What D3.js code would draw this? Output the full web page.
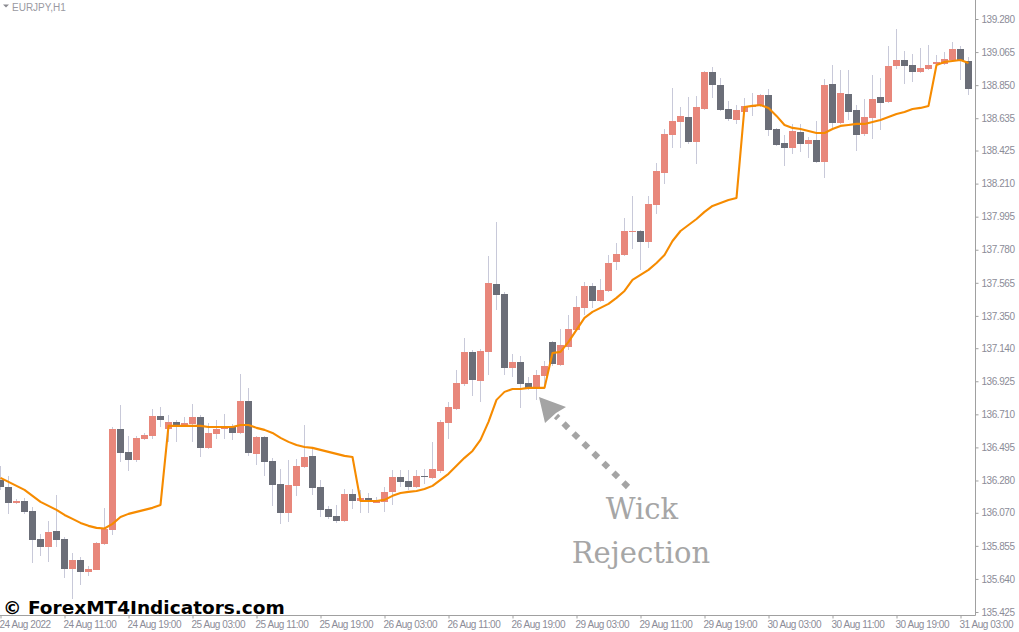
<!DOCTYPE html>
<html><head><meta charset="utf-8">
<script src="https://cdn.jsdelivr.net/npm/d3@7"></script>
<style>html,body{margin:0;padding:0;background:#fff;}svg{display:block;}</style>
</head><body>
<svg id="chart" width="1019" height="632"></svg>
<script>
const symbolLabel = "EURJPY,H1";
const timeLabels = ["24 Aug 2022","24 Aug 11:00","24 Aug 19:00","25 Aug 03:00","25 Aug 11:00","25 Aug 19:00","26 Aug 03:00","26 Aug 11:00","26 Aug 19:00","29 Aug 03:00","29 Aug 11:00","29 Aug 19:00","30 Aug 03:00","30 Aug 11:00","30 Aug 19:00","31 Aug 03:00"];
const timeLabelIndex = [0,8,16,24,32,40,48,56,64,72,80,88,96,104,112,120];
const priceTicks = ["139.280","139.065","138.850","138.635","138.425","138.210","137.995","137.780","137.565","137.350","137.140","136.925","136.710","136.495","136.280","136.070","135.855","135.640","135.425"];

const open = [136.284,136.240,136.136,136.147,136.082,135.900,135.850,135.952,135.900,135.707,
135.764,135.687,135.700,135.869,135.959,136.615,136.466,136.414,136.550,136.570,
136.700,136.615,136.661,136.641,136.648,136.693,136.492,136.583,136.615,136.635,
136.589,136.797,136.453,136.563,136.409,136.258,136.069,136.245,136.368,136.440,
136.238,136.095,136.050,136.017,136.193,136.147,136.167,136.136,136.141,136.206,
136.303,136.277,136.238,136.310,136.297,136.342,136.654,136.745,136.908,137.116,
136.927,137.116,137.558,137.493,137.012,137.051,136.914,136.875,136.960,137.181,
137.031,137.148,137.259,137.402,137.545,137.447,137.512,137.701,137.746,137.896,
137.902,137.831,138.071,138.279,138.526,138.611,138.643,138.481,138.695,138.936,
138.851,138.695,138.624,138.676,138.708,138.715,138.786,138.565,138.474,138.442,
138.546,138.468,138.494,138.351,138.858,138.604,138.793,138.689,138.533,138.637,
138.773,138.741,138.975,139.014,138.981,138.936,138.955,138.988,138.988,139.014,
139.085,139.007];
const high = [136.375,136.310,136.160,136.167,136.110,135.933,136.017,136.186,135.913,135.811,
135.785,135.725,135.880,136.102,136.630,136.771,136.570,136.570,136.589,136.745,
136.758,136.706,136.674,136.693,136.778,136.706,136.654,136.674,136.713,136.648,
136.973,136.882,136.570,136.570,136.427,136.355,136.414,136.420,136.641,136.500,
136.284,136.115,136.121,136.225,136.225,136.219,136.199,136.173,136.240,136.349,
136.349,136.349,136.349,136.355,136.531,136.674,136.791,136.999,137.207,137.129,
137.135,137.740,137.961,137.506,137.103,137.090,136.953,136.999,137.057,137.187,
137.265,137.356,137.480,137.571,137.564,137.590,137.746,137.824,137.987,138.130,
137.909,138.130,138.344,138.565,138.832,138.708,138.773,138.780,138.942,138.968,
138.897,138.747,138.721,138.767,138.799,138.793,138.825,138.572,138.526,138.598,
138.598,138.513,138.617,138.890,138.981,138.949,138.949,138.721,138.760,138.916,
138.897,139.105,139.215,139.072,139.053,139.092,139.111,139.046,139.066,139.131,
139.105,139.033];
const low = [136.219,136.063,136.128,136.063,135.746,135.790,135.751,135.850,135.648,135.510,
135.601,135.660,135.695,135.862,135.926,136.402,136.342,136.402,136.544,136.552,
136.630,136.531,136.531,136.635,136.531,136.433,136.485,136.552,136.550,136.544,
136.583,136.440,136.381,136.310,136.115,135.998,136.012,136.180,136.362,136.186,
136.045,136.030,136.004,136.012,136.095,136.069,136.069,136.134,136.077,136.121,
136.240,136.219,136.232,136.258,136.290,136.329,136.550,136.739,136.895,136.830,
136.791,136.966,137.389,136.966,136.955,136.752,136.869,136.804,136.901,137.025,
137.025,137.129,137.252,137.356,137.402,137.441,137.506,137.649,137.740,137.785,
137.649,137.792,138.013,138.208,138.442,138.442,138.468,138.338,138.689,138.767,
138.682,138.617,138.598,138.669,138.650,138.708,138.520,138.455,138.325,138.403,
138.416,138.377,138.344,138.247,138.559,138.598,138.624,138.422,138.520,138.500,
138.559,138.734,138.955,138.858,138.871,138.929,138.949,138.981,138.981,139.007,
138.884,138.786];
const close = [136.238,136.136,136.147,136.077,135.894,135.850,135.946,135.894,135.707,135.764,
135.687,135.705,135.874,135.965,136.615,136.461,136.414,136.557,136.576,136.700,
136.674,136.661,136.641,136.654,136.693,136.492,136.589,136.615,136.635,136.589,
136.797,136.459,136.563,136.401,136.251,136.069,136.251,136.375,136.433,136.232,
136.089,136.043,136.017,136.193,136.147,136.167,136.154,136.154,136.206,136.303,
136.271,136.238,136.310,136.303,136.355,136.661,136.758,136.914,137.116,136.934,
137.122,137.564,137.486,137.012,137.051,136.908,136.882,136.966,137.025,137.038,
137.161,137.265,137.408,137.545,137.447,137.519,137.694,137.753,137.902,137.902,
137.831,138.078,138.292,138.533,138.617,138.650,138.481,138.708,138.936,138.853,
138.689,138.630,138.689,138.715,138.715,138.786,138.559,138.461,138.442,138.552,
138.468,138.494,138.351,138.851,138.604,138.799,138.676,138.526,138.643,138.760,
138.734,138.975,139.014,138.975,138.936,138.962,138.981,139.001,139.020,139.085,
139.014,138.825];
const maLine = [136.297,136.271,136.245,136.219,136.180,136.141,136.115,136.089,136.056,136.030,
136.004,135.985,135.972,135.968,135.998,136.043,136.063,136.076,136.089,136.102,
136.121,136.635,136.635,136.635,136.635,136.635,136.628,136.628,136.628,136.628,
136.641,136.641,136.622,136.609,136.589,136.557,136.531,136.511,136.498,136.492,
136.479,136.466,136.453,136.440,136.433,136.147,136.147,136.147,136.154,136.180,
136.199,136.206,136.212,136.225,136.245,136.284,136.323,136.375,136.427,136.472,
136.544,136.661,136.804,136.856,136.875,136.875,136.882,136.882,136.882,137.109,
137.116,137.181,137.259,137.337,137.376,137.402,137.428,137.467,137.512,137.584,
137.616,137.649,137.694,137.746,137.837,137.902,137.941,137.980,138.026,138.065,
138.084,138.104,138.117,138.708,138.715,138.721,138.702,138.650,138.591,138.572,
138.565,138.552,138.539,138.539,138.565,138.585,138.591,138.598,138.598,138.611,
138.624,138.643,138.663,138.676,138.695,138.702,138.715,138.981,139.001,139.007,
139.014,138.994];
const annotationLines = ["Wick","Rejection"];
const watermark = "\u00A9 ForexMT4Indicators.com";

const W = 1019, H = 632, plotRight = 975, plotBottom = 615;
const svg = d3.select("#chart");
svg.append("rect").attr("width", W).attr("height", H).attr("fill", "#ffffff");

const x = d3.scaleLinear().domain([0, open.length - 1]).range([0.5, 968.5]);
const y = d3.scaleLinear().domain([135.425, 139.280]).range([612, 19]);

svg.append("defs").append("clipPath").attr("id", "plotclip")
  .append("rect").attr("x", 0).attr("y", 0).attr("width", plotRight).attr("height", plotBottom);

const plot = svg.append("g").attr("clip-path", "url(#plotclip)");
const bars = open.map((o, i) => ({i, o, h: high[i], l: low[i], c: close[i]}));
const bullCol = "#e8877b", bearCol = "#6b6e78", wickCol = "#c8c9d9";

plot.append("g").selectAll("rect").data(bars).join("rect")
  .attr("x", d => x(d.i) - 0.5).attr("width", 1)
  .attr("y", d => Math.round(y(d.h))).attr("height", d => Math.max(1, Math.round(y(d.l)) - Math.round(y(d.h))))
  .attr("fill", wickCol).attr("shape-rendering", "crispEdges");

plot.append("g").selectAll("rect").data(bars).join("rect")
  .attr("x", d => x(d.i) - 3.5).attr("width", 7)
  .attr("y", d => Math.round(y(Math.max(d.o, d.c))))
  .attr("height", d => Math.max(1, Math.round(y(Math.min(d.o, d.c))) - Math.round(y(Math.max(d.o, d.c)))))
  .attr("fill", d => d.c >= d.o ? bullCol : bearCol).attr("shape-rendering", "crispEdges");

plot.append("path").datum(maLine)
  .attr("fill", "none").attr("stroke", "#f68b00").attr("stroke-width", 2.1)
  .attr("stroke-linejoin", "round")
  .attr("d", d3.line().x((d, i) => x(i)).y(d => y(d)));

// axes frame
svg.append("line").attr("x1", plotRight + 0.5).attr("x2", plotRight + 0.5).attr("y1", 0).attr("y2", plotBottom + 0.5)
  .attr("stroke", "#a0a0a0").attr("stroke-width", 1);
svg.append("line").attr("x1", 0).attr("x2", plotRight + 0.5).attr("y1", plotBottom + 0.5).attr("y2", plotBottom + 0.5)
  .attr("stroke", "#a0a0a0").attr("stroke-width", 1);

const axisCol = "#8c8c98";
const yAxis = svg.append("g").attr("transform", `translate(${plotRight + 0.5},0)`)
  .call(d3.axisRight(y).tickValues(priceTicks.map(Number)).tickFormat(d3.format(".3f")).tickSize(3).tickPadding(3));
yAxis.select(".domain").remove();
yAxis.selectAll("line").attr("stroke", "#a0a0a0");
yAxis.selectAll("text").attr("fill", axisCol).attr("font-family", "'Liberation Sans', Arial, sans-serif")
  .attr("font-size", 10).attr("letter-spacing", "-0.45px");

const xAxis = svg.append("g").attr("transform", `translate(0,${plotBottom + 0.5})`)
  .call(d3.axisBottom(x).tickValues(timeLabelIndex).tickFormat((d, k) => timeLabels[k]).tickSize(3).tickPadding(2));
xAxis.select(".domain").remove();
xAxis.selectAll("line").attr("stroke", "#a0a0a0");
xAxis.selectAll("text").attr("fill", axisCol).attr("font-family", "'Liberation Sans', Arial, sans-serif")
  .attr("font-size", 10).attr("letter-spacing", "-0.45px").attr("text-anchor", "start").attr("dx", -1.5);

// symbol label
svg.append("path").attr("d", "M3,4.5 L9,4.5 L6,7.5 Z").attr("fill", "#8a8a90");
svg.append("text").attr("x", 12).attr("y", 10.5).text(symbolLabel)
  .attr("fill", "#9a9aa2").attr("font-family", "'Liberation Sans', Arial, sans-serif").attr("font-size", 10);

// annotation arrow
const ann = svg.append("g").attr("fill", "#a4a4a4");
ann.append("line").attr("x1", 628).attr("y1", 487).attr("x2", 556).attr("y2", 416)
  .attr("stroke", "#a4a4a4").attr("stroke-width", 6).attr("stroke-dasharray", "6.5 7.5");
ann.append("path").attr("d", "M539,397 L566,407 L556,413 L545,423 Z");
ann.selectAll("text").data(annotationLines).join("text")
  .attr("x", (d, k) => k === 0 ? 642 : 641).attr("y", (d, k) => k === 0 ? 519 : 563)
  .attr("text-anchor", "middle").attr("font-family", "'DejaVu Serif', serif").attr("font-size", 29)
  .attr("fill", "#a6a6a6").text(d => d);

// watermark
svg.append("text").attr("x", 3).attr("y", 614).text(watermark)
  .attr("font-family", "'DejaVu Sans', Verdana, sans-serif").attr("font-weight", "bold").attr("font-size", 18.5)
  .attr("fill", "#000");
</script>
</body></html>
